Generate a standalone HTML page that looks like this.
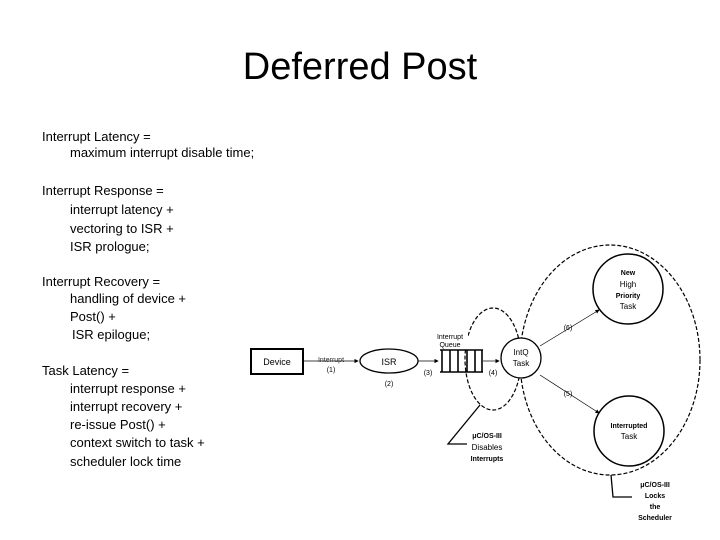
<!DOCTYPE html>
<html><head><meta charset="utf-8"><style>
body{margin:0;width:720px;height:540px;background:#fff;position:relative;overflow:hidden;font-family:"Liberation Sans",sans-serif;color:#000}
.t{position:absolute;font-size:13px;white-space:nowrap;line-height:16px}
h1{position:absolute;margin:0;top:44px;left:0;width:720px;text-align:center;font-weight:normal;font-size:38px;line-height:46px}
</style></head><body>
<h1>Deferred Post</h1>
<div class="t" style="left:42px;top:129px">Interrupt Latency =</div>
<div class="t" style="left:70px;top:145px">maximum interrupt disable time;</div>
<div class="t" style="left:42px;top:183px">Interrupt Response =</div>
<div class="t" style="left:70px;top:202px">interrupt latency +</div>
<div class="t" style="left:70px;top:221px">vectoring to ISR +</div>
<div class="t" style="left:70px;top:239px">ISR prologue;</div>
<div class="t" style="left:42px;top:274px">Interrupt Recovery =</div>
<div class="t" style="left:70px;top:291px">handling of device +</div>
<div class="t" style="left:70px;top:309px">Post() +</div>
<div class="t" style="left:72px;top:327px">ISR epilogue;</div>
<div class="t" style="left:42px;top:363px">Task Latency =</div>
<div class="t" style="left:70px;top:381px">interrupt response +</div>
<div class="t" style="left:70px;top:399px">interrupt recovery +</div>
<div class="t" style="left:70px;top:417px">re-issue Post() +</div>
<div class="t" style="left:70px;top:435px">context switch to task +</div>
<div class="t" style="left:70px;top:454px">scheduler lock time</div>
<svg width="720" height="540" style="position:absolute;left:0;top:0" font-family="Liberation Sans, sans-serif">
<defs><marker id="a" markerWidth="6" markerHeight="6" refX="5" refY="3" orient="auto"><path d="M0,0L6,3L0,6z" fill="#000"/></marker></defs>
<rect x="251" y="349" width="52" height="25" fill="none" stroke="#000" stroke-width="2"/>
<text x="277" y="365" font-size="9" text-anchor="middle">Device</text>
<line x1="303" y1="361" x2="358" y2="361" stroke="#000" stroke-width="0.7" marker-end="url(#a)"/>
<text x="331" y="362" font-size="7" text-anchor="middle" fill="#333">Interrupt</text>
<text x="331" y="372" font-size="7" text-anchor="middle">(1)</text>
<ellipse cx="389" cy="361" rx="29" ry="12" fill="#fff" stroke="#000" stroke-width="1.3"/>
<text x="389" y="365" font-size="9" text-anchor="middle">ISR</text>
<text x="389" y="386" font-size="7" text-anchor="middle">(2)</text>
<line x1="418" y1="361" x2="438" y2="361" stroke="#000" stroke-width="0.7" marker-end="url(#a)"/>
<text x="428" y="375" font-size="7" text-anchor="middle">(3)</text>
<ellipse cx="493" cy="359" rx="28" ry="51" fill="none" stroke="#000" stroke-width="1.2" stroke-dasharray="4,2"/>
<ellipse cx="610" cy="360" rx="90" ry="115" fill="none" stroke="#000" stroke-width="1.2" stroke-dasharray="4,2"/>
<g stroke="#000" stroke-width="1.6"><line x1="440" y1="350" x2="483" y2="350"/><line x1="440" y1="372" x2="483" y2="372"/>
<line x1="442" y1="350" x2="442" y2="372"/><line x1="450" y1="350" x2="450" y2="372"/><line x1="458" y1="350" x2="458" y2="372"/><line x1="467" y1="350" x2="467" y2="372"/><line x1="475" y1="350" x2="475" y2="372"/><line x1="482" y1="350" x2="482" y2="372"/></g>
<rect x="432" y="332" width="36" height="17" fill="#fff"/>
<text x="450" y="339" font-size="7" text-anchor="middle">Interrupt</text>
<text x="450" y="347" font-size="7" text-anchor="middle">Queue</text>
<line x1="483" y1="361" x2="499" y2="361" stroke="#000" stroke-width="0.7" marker-end="url(#a)"/>
<text x="493" y="375" font-size="7" text-anchor="middle">(4)</text>
<circle cx="521" cy="358" r="20" fill="#fff" stroke="#000" stroke-width="1.3"/>
<text x="521" y="355" font-size="8" text-anchor="middle">IntQ</text>
<text x="521" y="366" font-size="8" text-anchor="middle">Task</text>
<circle cx="628" cy="289" r="35" fill="#fff" stroke="#000" stroke-width="1.5"/>
<text x="628" y="275" font-size="7" text-anchor="middle" font-weight="bold">New</text>
<text x="628" y="287" font-size="8" text-anchor="middle">High</text>
<text x="628" y="298" font-size="7" text-anchor="middle" font-weight="bold">Priority</text>
<text x="628" y="309" font-size="8" text-anchor="middle">Task</text>
<circle cx="629" cy="431" r="35" fill="#fff" stroke="#000" stroke-width="1.5"/>
<text x="629" y="428" font-size="7" text-anchor="middle" font-weight="bold">Interrupted</text>
<text x="629" y="439" font-size="8" text-anchor="middle">Task</text>
<line x1="540" y1="346" x2="599" y2="310" stroke="#000" stroke-width="0.7" marker-end="url(#a)"/>
<line x1="540" y1="375" x2="599" y2="413" stroke="#000" stroke-width="0.7" marker-end="url(#a)"/>
<text x="568" y="330" font-size="7" text-anchor="middle">(6)</text>
<text x="568" y="396" font-size="7" text-anchor="middle">(5)</text>
<polyline points="480,405 448,444 467,444" fill="none" stroke="#000" stroke-width="1.3"/>
<text x="487" y="438" font-size="7" text-anchor="middle" font-weight="bold">μC/OS-III</text>
<text x="487" y="450" font-size="8" text-anchor="middle">Disables</text>
<text x="487" y="461" font-size="7" text-anchor="middle" font-weight="bold">Interrupts</text>
<polyline points="611,475 613,497 632,497" fill="none" stroke="#000" stroke-width="1.3"/>
<text x="655" y="487" font-size="7" text-anchor="middle" font-weight="bold">μC/OS-III</text>
<text x="655" y="498" font-size="7" text-anchor="middle" font-weight="bold">Locks</text>
<text x="655" y="509" font-size="7" text-anchor="middle" font-weight="bold">the</text>
<text x="655" y="520" font-size="7" text-anchor="middle" font-weight="bold">Scheduler</text>
</svg>
</body></html>
